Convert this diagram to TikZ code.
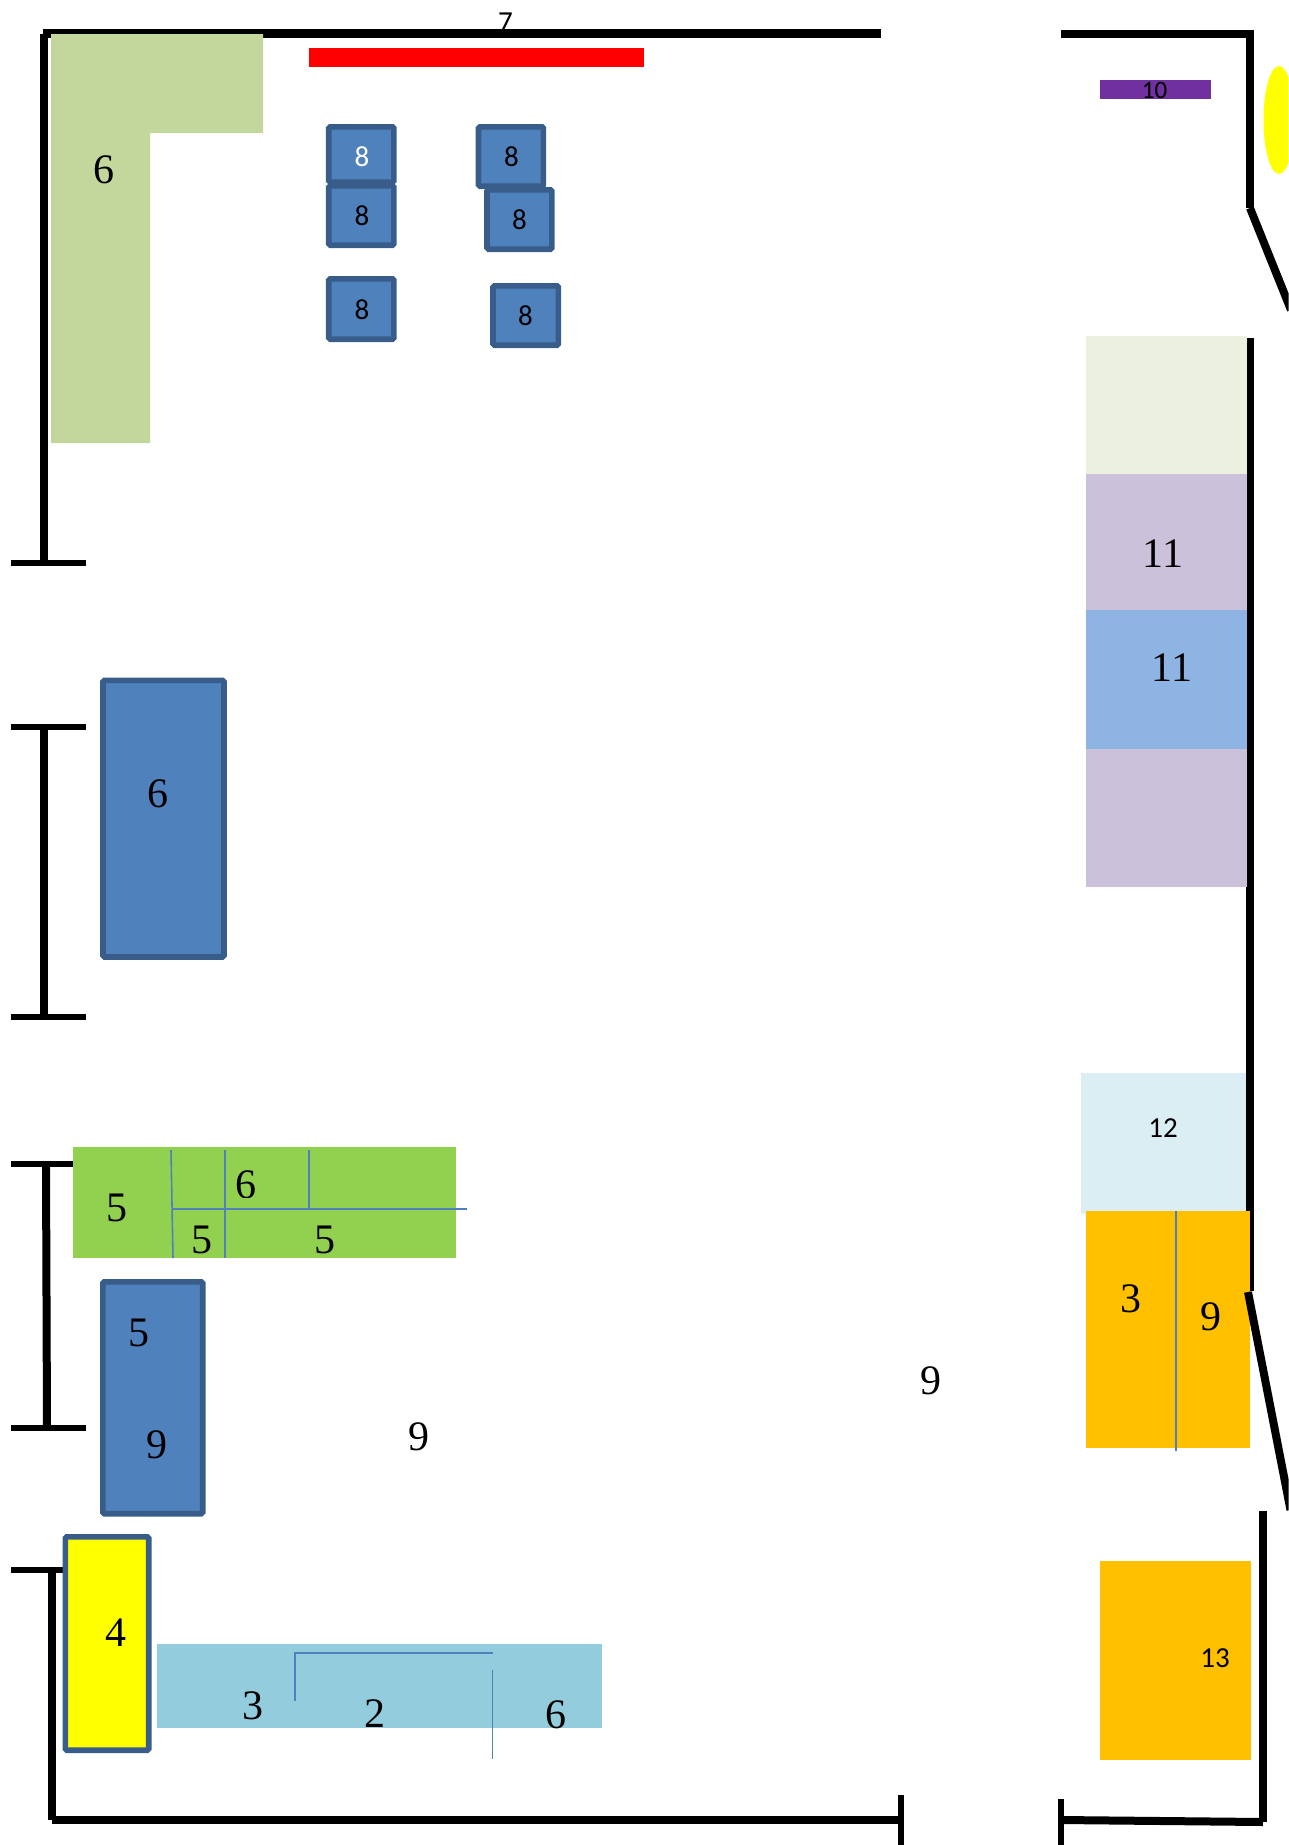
\documentclass[tikz,border=0pt]{standalone}
\usepackage{fontspec}
\setmainfont{Liberation Serif}
\newfontfamily\carl{Carlito}
\definecolor{lgreen}{HTML}{C3D69B}
\definecolor{bfill}{HTML}{4F81BD}
\definecolor{bedge}{HTML}{385D8A}
\definecolor{cream}{HTML}{EBF1DE}
\definecolor{lilac}{HTML}{CCC1DA}
\definecolor{sky}{HTML}{8EB4E3}
\definecolor{pale}{HTML}{DBEEF4}
\definecolor{amber}{HTML}{FFC000}
\definecolor{grass}{HTML}{92D050}
\definecolor{aqua}{HTML}{93CDDD}
\definecolor{violet}{HTML}{7030A0}
\definecolor{pureyellow}{HTML}{FFFF00}
\definecolor{purered}{HTML}{FF0000}
\tikzset{
  wall/.style={line width=8pt,black},
  thinwall/.style={line width=6pt,black},
  topwall/.style={line width=9pt,black},
  box/.style={draw=bedge,line width=5.6pt,rounded corners=1.5pt},
  divider/.style={draw=bfill,line width=1.6pt},
  big/.style={inner sep=0pt,yshift=-1pt,font=\fontsize{42}{42}\selectfont},
  small/.style={inner sep=0pt,font=\carl\fontsize{29}{29}\selectfont},
}
\begin{document}
\begin{tikzpicture}[x=1pt,y=-1pt]
\clip (0,0) rectangle (1288.6,1845);
% label behind top wall
\node[small] (n7) at (505.5,22) {7};
% walls
\draw[topwall] (43,33) -- (880.5,33);
\draw[wall] (43.6,34) -- (43.6,565);
\draw[thinwall] (11,563) -- (86,563);
\draw[thinwall] (11,727) -- (86,727);
\draw[thinwall] (11,1017) -- (86,1017);
\draw[wall] (43.6,727) -- (43.6,1017);
\draw[thinwall] (11,1164) -- (86,1164);
\draw[thinwall] (11,1428) -- (86,1428);
\draw[wall] (46,1164) -- (47,1428);
\draw[thinwall] (11,1570) -- (70,1570);
\draw[wall] (51.5,1570) -- (51.5,1820);
\draw[wall] (52,1820) -- (901,1820);
\draw[line width=6pt] (900.5,1795) -- (900.5,1845);
\draw[line width=6pt] (1060.5,1799) -- (1060.5,1845);
\draw[wall] (1061,1820) -- (1263,1822);
\draw[wall] (1263,1511) -- (1263,1822);
\draw[wall] (1061,34) -- (1253.5,34);
\draw[wall] (1250,34) -- (1250,208);
\draw[wall] (1250,208) -- (1291,310);
\draw[wall] (1250,338) -- (1250,1291);
% top-left furniture
\fill[lgreen] (51,34) -- (263,34) -- (263,133) -- (150,133) -- (150,443) -- (51,443) -- cycle;
\fill[purered] (308.6,48) rectangle (643.6,67);
\filldraw[box,fill=bfill] (328.7,126.8) rectangle (393.9,182.2);
\filldraw[box,fill=bfill] (328.7,185.8) rectangle (393.9,245.2);
\filldraw[box,fill=bfill] (328.7,278.8) rectangle (393.9,339.2);
\filldraw[box,fill=bfill] (478.5,126.8) rectangle (543.4,186.2);
\filldraw[box,fill=bfill] (487,189.8) rectangle (551.9,249.2);
\filldraw[box,fill=bfill] (493,285.8) rectangle (558.4,345.2);
\node[big] (n6a) at (104,169) {6};
\node[small,text=white] (n8a) at (362,157) {8};
\node[small] (n8b) at (362,216) {8};
\node[small] (n8c) at (362,310) {8};
\node[small] (n8d) at (511.5,157) {8};
\node[small] (n8e) at (519.5,220) {8};
\node[small] (n8f) at (525.5,316) {8};
% top-right
\fill[pureyellow] (1279,120) ellipse [x radius=15.5,y radius=54];
\fill[violet] (1100,80) rectangle (1211,99);
\node[small,font=\carl\fontsize{25}{25}\selectfont] (n10) at (1154.5,90) {10};
% right column
\fill[cream] (1086,336) rectangle (1247,474);
\fill[lilac] (1086,474) rectangle (1247,610);
\fill[sky] (1086,610) rectangle (1247,749);
\fill[lilac] (1086,749) rectangle (1247,887);
\node[big] (n11a) at (1163,553) {11};
\node[big] (n11b) at (1172,667) {11};
\fill[pale] (1080.5,1073) rectangle (1246,1214);
\fill[amber] (1086,1211) rectangle (1249.5,1448);
\draw[divider] (1176,1211) -- (1176,1451);
\draw[wall] (1248,1292) -- (1290.5,1510);
\node[small] (n12) at (1163,1128) {12};
\node[big] (n3a) at (1131,1298) {3};
\node[big] (n9a) at (1211,1316) {9};
\fill[amber] (1100,1561) rectangle (1251,1760);
\node[small] (n13) at (1215,1658) {13};
% left column
\filldraw[box,fill=bfill] (103,680.3) rectangle (224,957);
\node[big] (n6b) at (158,792.5) {6};
\fill[grass] (73,1147) rectangle (455.5,1258);
\draw[divider] (171,1150) -- (173,1258);
\draw[divider] (225,1150) -- (225,1258);
\draw[divider] (309,1150) -- (309,1209);
\draw[divider] (172,1209) -- (466.5,1209);
\begin{scope}
\clip (73,1147) rectangle (160,1221);
\node[big] (n5a) at (117,1206.5) {5};
\end{scope}
\begin{scope}
\clip (180,1215) rectangle (220,1253.5);
\node[big] (n5b) at (201.5,1239) {5};
\end{scope}
\begin{scope}
\clip (300,1215) rectangle (350,1253.5);
\node[big] (n5c) at (325,1239) {5};
\end{scope}
\begin{scope}
\clip (230,1160) rectangle (270,1197);
\node[big] (n6c) at (246,1183.5) {6};
\end{scope}
\filldraw[box,fill=bfill] (102.8,1281.8) rectangle (202.7,1513.7);
\node[big] (n5d) at (139,1332) {5};
\node[big] (n9b) at (157,1444) {9};
\node[big] (n9c) at (419,1436) {9};
\node[big] (n9d) at (931,1380) {9};
% bottom-left
\filldraw[box,fill=pureyellow] (65.3,1536.8) rectangle (148.7,1750.2);
\node[big] (n4) at (116,1632) {4};
\fill[aqua] (157,1644) rectangle (601.5,1728);
\draw[divider] (295,1701) -- (295,1653) -- (492.5,1653);
\draw[divider] (492.5,1670) -- (492.5,1759);
\node[big] (n3b) at (252.5,1705) {3};
\node[big] (n2) at (375,1713) {2};
\node[big] (n6d) at (555.5,1714) {6};
\end{tikzpicture}
\end{document}
